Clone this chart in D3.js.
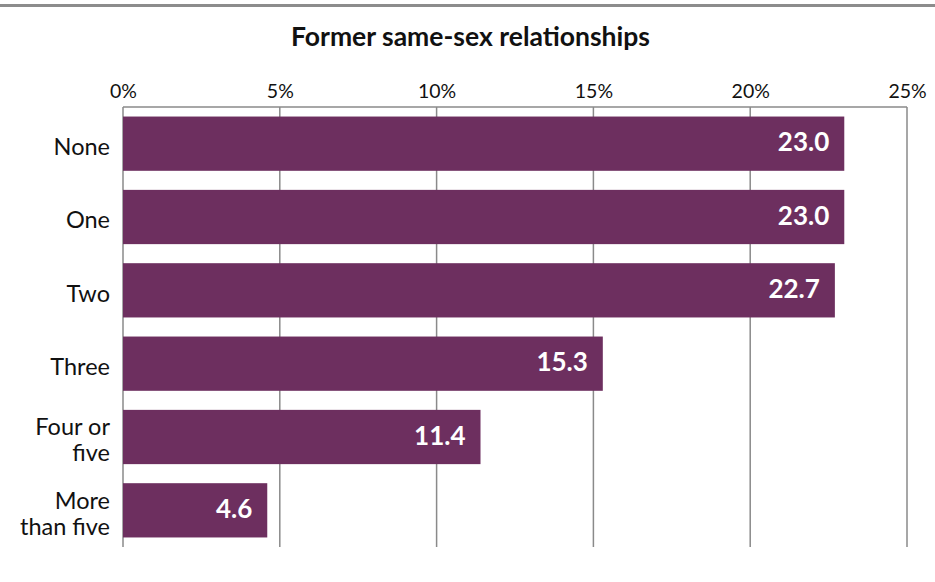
<!DOCTYPE html>
<html>
<head>
<meta charset="utf-8">
<script src="https://cdn.jsdelivr.net/npm/d3@7"></script>
<style>
  html, body { margin: 0; padding: 0; background: #fff; }
  svg { display: block; font-family: Lato, "Open Sans", sans-serif; }
</style>
</head>
<body>
<svg id="chart" width="935" height="582"></svg>
<script>
// Share of respondents by number of former same-sex relationships (%)
const categories = ["None", "One", "Two", "Three", "Four or five", "More than five"];
const categoryLines = [["None"], ["One"], ["Two"], ["Three"], ["Four or", "five"], ["More", "than five"]];
const values = [23.0, 23.0, 22.7, 15.3, 11.4, 4.6];
const tickValues = [0, 5, 10, 15, 20, 25];
const title = "Former same-sex relationships";

const W = 935, H = 582;
const margin = { top: 107, right: 28, bottom: 35, left: 123 };
const svg = d3.select("#chart");

const x = d3.scaleLinear().domain([0, 25]).range([margin.left, W - margin.right]);
const y = d3.scaleBand().domain(categories).range([margin.top, H - margin.bottom]).paddingInner(0.26).paddingOuter(0.13);

const gridColor = "#8a8a8a";

// top rule
svg.append("line").attr("x1", 0).attr("x2", W).attr("y1", 5.5).attr("y2", 5.5)
  .attr("stroke", "#8c8c8c").attr("stroke-width", 3);

// title
svg.append("text").attr("x", 470.5).attr("y", 46).attr("text-anchor", "middle")
  .attr("font-size", 26.5).attr("font-weight", 700).attr("fill", "#111").text(title);

// vertical grid lines
svg.append("g").selectAll("line").data(tickValues).join("line")
  .attr("x1", d => x(d)).attr("x2", d => x(d))
  .attr("y1", margin.top).attr("y2", H - margin.bottom)
  .attr("stroke", gridColor).attr("stroke-width", 1.5);

// top frame line
svg.append("line").attr("x1", x(0)).attr("x2", x(25)).attr("y1", margin.top).attr("y2", margin.top)
  .attr("stroke", gridColor).attr("stroke-width", 1.5);

// top axis labels
const axis = d3.axisTop(x).tickValues(tickValues).tickFormat(d => d + "%").tickSize(0).tickPadding(9);
const ax = svg.append("g").attr("transform", `translate(0,${margin.top})`).call(axis);
ax.select(".domain").remove();
ax.selectAll("text").attr("font-size", 19.5).attr("fill", "#111").attr("font-family", "Lato, sans-serif");

// bars
svg.append("g").selectAll("rect").data(values).join("rect")
  .attr("x", x(0))
  .attr("y", (d, i) => y(categories[i]))
  .attr("width", d => x(d) - x(0))
  .attr("height", y.bandwidth())
  .attr("fill", "#6d2f5f");

// value labels
svg.append("g").selectAll("text").data(values).join("text")
  .attr("x", d => x(d) - 15)
  .attr("y", (d, i) => y(categories[i]) + y.bandwidth() / 2)
  .attr("dy", "0.3em")
  .attr("text-anchor", "end")
  .attr("font-size", 26).attr("font-weight", 700).attr("fill", "#fff")
  .text(d => d.toFixed(1));

// category labels
const cat = svg.append("g").selectAll("text").data(categoryLines).join("text")
  .attr("text-anchor", "end")
  .attr("font-size", 23.5).attr("fill", "#111")
  .attr("transform", (d, i) => `translate(110,${y(categories[i]) + y.bandwidth() / 2 + 3})`);
cat.each(function(lines) {
  const t = d3.select(this);
  const lh = 26;
  lines.forEach((ln, j) => {
    t.append("tspan").attr("x", 0)
      .attr("y", (j - (lines.length - 1) / 2) * lh)
      .attr("dy", "0.36em").text(ln);
  });
});
</script>
</body>
</html>
